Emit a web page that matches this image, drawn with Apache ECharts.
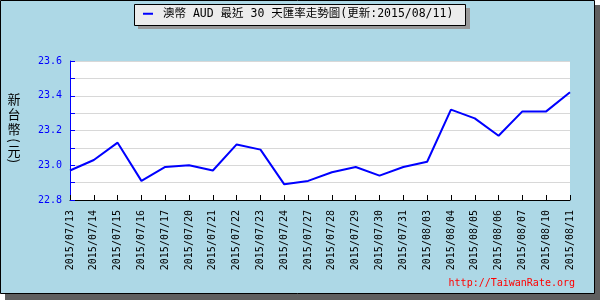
<!DOCTYPE html>
<html>
<head>
<meta charset="utf-8">
<script src="https://cdn.jsdelivr.net/npm/echarts@6/dist/echarts.min.js"></script>
<style>html,body{margin:0;padding:0;}#c{width:600px;height:300px;}</style>
</head>
<body>
<div id="c"></div>
<script>
var dates = ['2015/07/13','2015/07/14','2015/07/15','2015/07/16','2015/07/17','2015/07/20','2015/07/21','2015/07/22','2015/07/23','2015/07/24','2015/07/27','2015/07/28','2015/07/29','2015/07/30','2015/07/31','2015/08/03','2015/08/04','2015/08/05','2015/08/06','2015/08/07','2015/08/10','2015/08/11'];
var rates = [22.97, 23.03, 23.13, 22.91, 22.99, 23.00, 22.97, 23.12, 23.09, 22.89, 22.91, 22.96, 22.99, 22.94, 22.99, 23.02, 23.32, 23.27, 23.17, 23.31, 23.31, 23.42];
var seriesName = '澳幣 AUD 最近 30 天匯率走勢圖(更新:2015/08/11)';
var yAxisNameMain = '新\n台\n幣';
var yAxisNameUnit = '元';
var watermark = 'http://TaiwanRate.org';
var yMin = 22.8, yMax = 23.6, yStep = 0.1;

var mono = "'DejaVu Sans Mono', 'Noto Sans CJK TC', monospace";
var cjk = "13px 'Noto Sans CJK TC'";
var chart = echarts.init(document.getElementById('c'), null, {renderer: 'canvas'});
chart.setOption({
  animation: false,
  backgroundColor: 'transparent',
  graphic: [
    {type: 'rect', z: -10, shape: {x: 5, y: 5, width: 595, height: 295}, style: {fill: '#5f5f5f'}},
    {type: 'rect', z: -9, shape: {x: 0.5, y: 0.5, width: 594, height: 293}, style: {fill: '#add8e6', stroke: '#000', lineWidth: 1}},
    {type: 'rect', z: 1, shape: {x: 138, y: 8, width: 332, height: 21}, style: {fill: '#999999'}},
    {type: 'rect', z: 2, shape: {x: 134.5, y: 4.5, width: 331, height: 21}, style: {fill: '#ececec', stroke: '#000', lineWidth: 1}},
    {type: 'text', z: 5, x: 14, y: 114, style: {text: yAxisNameMain, fill: '#000', font: cjk, lineHeight: 15, textAlign: 'center', textVerticalAlign: 'middle'}},
    {type: 'text', z: 5, x: 14, y: 140.5, rotation: -Math.PI / 2, style: {text: '(', fill: '#000', font: cjk, textAlign: 'center', textVerticalAlign: 'middle'}},
    {type: 'text', z: 5, x: 14, y: 151, style: {text: yAxisNameUnit, fill: '#000', font: cjk, textAlign: 'center', textVerticalAlign: 'middle'}},
    {type: 'text', z: 5, x: 14, y: 161, rotation: -Math.PI / 2, style: {text: ')', fill: '#000', font: cjk, textAlign: 'center', textVerticalAlign: 'middle'}},
    {type: 'text', z: 5, x: 575, y: 283, style: {text: watermark, fill: '#ff0000', font: "10px 'DejaVu Sans Mono'", textAlign: 'right', textVerticalAlign: 'middle'}}
  ],
  legend: {
    left: 143, top: 8, z: 10, padding: 0,
    icon: 'rect', itemWidth: 10, itemHeight: 2,
    data: [seriesName],
    textStyle: {fontFamily: mono, fontSize: 11.5, color: '#000', padding: [0, 0, 0, 5]}
  },
  grid: {left: 70, right: 30, top: 61, bottom: 100, show: true, backgroundColor: '#fff', borderWidth: 0},
  xAxis: {
    type: 'category', data: dates, boundaryGap: false,
    axisLine: {lineStyle: {color: '#000', width: 1}},
    axisTick: {inside: true, length: 5, lineStyle: {color: '#000'}, interval: 0},
    axisLabel: {rotate: 90, interval: 0, margin: 10, fontFamily: "'DejaVu Sans Mono'", fontSize: 10, color: '#000'},
    splitLine: {show: false}
  },
  yAxis: {
    type: 'value', min: yMin, max: yMax, interval: yStep,
    axisLine: {show: true, lineStyle: {color: '#0000ff', width: 1}},
    axisTick: {show: true, inside: true, length: 5, lineStyle: {color: '#0000ff'}},
    axisLabel: {margin: 8, fontFamily: "'DejaVu Sans Mono'", fontSize: 10, color: '#0000ff',
      formatter: function (v) { return Math.round(v * 10) % 2 === 0 ? v.toFixed(1) : ''; }},
    splitLine: {show: true, lineStyle: {color: '#d8d8d8', width: 1}}
  },
  series: [{
    name: seriesName, type: 'line', data: rates,
    showSymbol: false, symbol: 'none',
    lineStyle: {color: '#0000ff', width: 2},
    itemStyle: {color: '#0000ff'}
  }]
});
</script>
</body>
</html>
